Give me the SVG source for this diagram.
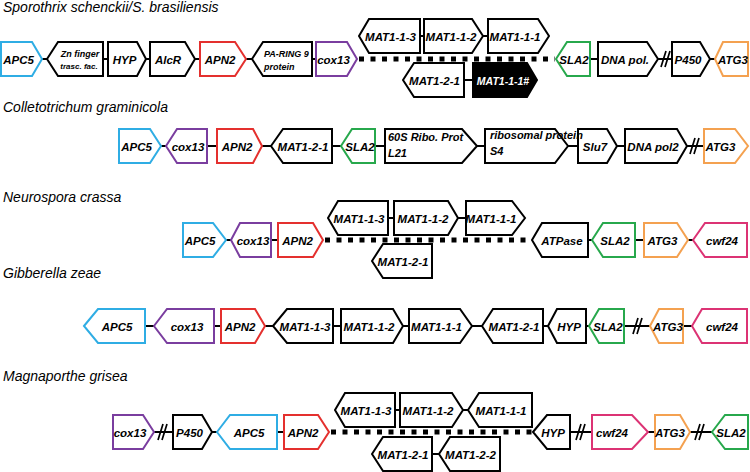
<svg xmlns="http://www.w3.org/2000/svg" width="750" height="472" viewBox="0 0 750 472">
<style>
.g{fill:#fff;stroke:#000;stroke-width:2;stroke-linejoin:miter}
.blue{stroke:#2fadE4}.purple{stroke:#7a3d9f}.red{stroke:#e4302e}.green{stroke:#27a84c}.orange{stroke:#f4a150}.pink{stroke:#dc3374}
.blk{fill:#000}
.t{font-family:"Liberation Sans",Arial,sans-serif;font-weight:bold;font-style:italic;font-size:11.5px;text-anchor:middle;fill:#000}
.tl{text-anchor:start}
.w{fill:#fff}
.title{font-family:"Liberation Sans",Arial,sans-serif;font-style:italic;font-size:14px;fill:#000}
.c{stroke:#000;stroke-width:2;fill:none}
.d{stroke:#000;stroke-width:5;stroke-dasharray:5 6.5;fill:none}
.brk{stroke:#000;stroke-width:1.7;fill:none}
</style>
<defs>
<path id="brk" d="M-5,8 L0,-8 M-1,8 L4,-8"/>
</defs>

<g id="titles">
<text class="title" x="3" y="12">Sporothrix schenckii/S. brasiliensis</text>
<text class="title" x="3" y="112">Colletotrichum graminicola</text>
<text class="title" x="3" y="202">Neurospora crassa</text>
<text class="title" x="3" y="278">Gibberella zeae</text>
<text class="title" x="3" y="381">Magnaporthe grisea</text>
</g>

<g id="connectors">
<path class="c" d="M42,59H47M103,59H108M146,59H150M195,59H200M246,59H252M312,59H316M590,59H598M658,59H672M710,59H715M420,36H424M483,36H488M464,80H473"/>
<path class="d" d="M359,59H555"/>
<use href="#brk" class="brk" x="666" y="59"/>
<path class="c" d="M161,146H166M207,146H217M262,146H271M332,146H341M375,146H385M477,146H485M568,146H578M617,146H625M687,146H704"/>
<use href="#brk" class="brk" x="695" y="146"/>
<path class="c" d="M226,240H231M271,240H278M588,240H592M635,240H644M688,240H693M388,218H394M458,218H466"/>
<path class="d" d="M325,240H532"/>
<path class="c" d="M145,326H154M214,326H221M265,326H273M333,326H341M403,326H409M472,326H482M543,326H548M586,326H589M624,326H650M683,326H692"/>
<use href="#brk" class="brk" x="638" y="326"/>
<path class="c" d="M154,432H173M212,432H217M277,432H284M570,432H592M648,432H655M690,432H712M395,410H400M463,410H468M432,454H439"/>
<path class="d" d="M331,432H532"/>
<use href="#brk" class="brk" x="163" y="432"/>
<use href="#brk" class="brk" x="581" y="432"/>
<use href="#brk" class="brk" x="700" y="432"/>
</g>

<!-- Row 1: Sporothrix -->
<g id="r1-APC5"><polygon class="g blue" points="1,42 32,42 42,59 32,76 1,76"/><text class="t" x="18.5" y="63.5">APC5</text></g>
<g id="r1-Zn"><polygon class="g" points="47,59 58,42 103,42 103,76 58,76"/><text class="t" x="80" y="57" style="font-size:9px">Zn finger</text><text class="t" x="79" y="69" style="font-size:8px">trasc. fac.</text></g>
<g id="r1-HYP"><polygon class="g" points="108,42 137,42 146,59 137,76 108,76"/><text class="t" x="124.5" y="63.5">HYP</text></g>
<g id="r1-AlcR"><polygon class="g" points="150,42 185,42 195,59 185,76 150,76"/><text class="t" x="168" y="63.5">AlcR</text></g>
<g id="r1-APN2"><polygon class="g red" points="200,42 235,42 246,59 235,76 200,76"/><text class="t" x="220" y="63.5">APN2</text></g>
<g id="r1-PARING"><polygon class="g" points="252,59 263,42 312,42 312,76 263,76"/><text class="t tl" x="264" y="57" style="font-size:9px">PA-RING 9</text><text class="t tl" x="264" y="70" style="font-size:9px">protein</text></g>
<g id="r1-cox13"><polygon class="g purple" points="316,42 347,42 357,59 347,76 316,76"/><text class="t" x="333.5" y="63.5">cox13</text></g>
<g id="r1-MAT1-1-3"><polygon class="g" points="359,36 369,19 420,19 420,53 369,53"/><text class="t" x="390.5" y="40.5">MAT1-1-3</text></g>
<g id="r1-MAT1-1-2"><polygon class="g" points="424,19 472,19 483,36 472,53 424,53"/><text class="t" x="451" y="40.5">MAT1-1-2</text></g>
<g id="r1-MAT1-1-1"><polygon class="g" points="488,19 538,19 549,36 538,53 488,53"/><text class="t" x="515" y="40.5">MAT1-1-1</text></g>
<g id="r1-MAT1-2-1"><polygon class="g" points="403,80 414,63 464,63 464,97 414,97"/><text class="t" x="434.5" y="84.5">MAT1-2-1</text></g>
<g id="r1-MAT1-1-1h"><polygon class="g blk" points="473,63 527,63 537,80 527,97 473,97"/><text class="t w" x="503" y="84.5" style="font-size:10.5px">MAT1-1-1#</text></g>
<g id="r1-SLA2"><polygon class="g green" points="556,59 567,42 590,42 590,76 567,76"/><text class="t" x="574" y="63.5">SLA2</text></g>
<g id="r1-DNApol"><polygon class="g" points="598,42 647,42 658,59 647,76 598,76"/><text class="t" x="625" y="63.5">DNA pol.</text></g>
<g id="r1-P450"><polygon class="g" points="672,42 700,42 710,59 700,76 672,76"/><text class="t" x="688" y="63.5">P450</text></g>
<g id="r1-ATG3"><polygon class="g orange" points="715,59 723,42 748,42 748,76 723,76"/><text class="t" x="733" y="63.5">ATG3</text></g>

<!-- Row 2: Colletotrichum -->
<g id="r2-APC5"><polygon class="g blue" points="119,129 150,129 161,146 150,163 119,163"/><text class="t" x="136.5" y="150.5">APC5</text></g>
<g id="r2-cox13"><polygon class="g purple" points="166,146 177,129 207,129 207,163 177,163"/><text class="t" x="188" y="150.5">cox13</text></g>
<g id="r2-APN2"><polygon class="g red" points="217,129 253,129 262,146 253,163 217,163"/><text class="t" x="237" y="150.5">APN2</text></g>
<g id="r2-MAT1-2-1"><polygon class="g" points="271,146 283,129 332,129 332,163 283,163"/><text class="t" x="303" y="150.5">MAT1-2-1</text></g>
<g id="r2-SLA2"><polygon class="g green" points="341,146 352,129 375,129 375,163 352,163"/><text class="t" x="360" y="150.5">SLA2</text></g>
<g id="r2-60S"><polygon class="g" points="385,129 462,129 477,146 462,163 385,163"/><text class="t tl" x="388" y="141" style="font-size:11px">60S Ribo. Prot</text><text class="t tl" x="388" y="157" style="font-size:11px">L21</text></g>
<g id="r2-Slu7"><polygon class="g" points="578,129 607,129 617,146 607,163 578,163"/><text class="t" x="595" y="150.5">Slu7</text></g>
<g id="r2-S4"><polygon class="g" points="485,129 555,129 568,146 555,163 485,163"/><text class="t tl" x="490" y="139" style="font-size:11px">ribosomal protein</text><text class="t tl" x="490" y="155" style="font-size:11px">S4</text></g>
<g id="r2-DNApol2"><polygon class="g" points="625,129 677,129 687,146 677,163 625,163"/><text class="t" x="653" y="150.5">DNA pol2</text></g>
<g id="r2-ATG3"><polygon class="g orange" points="704,129 735,129 748,146 735,163 704,163"/><text class="t" x="720.5" y="150.5">ATG3</text></g>

<!-- Row 3: Neurospora -->
<g id="r3-APC5"><polygon class="g blue" points="183,223 213,223 226,240 213,257 183,257"/><text class="t" x="200" y="244.5">APC5</text></g>
<g id="r3-cox13"><polygon class="g purple" points="231,240 240,223 271,223 271,257 240,257"/><text class="t" x="253" y="244.5">cox13</text></g>
<g id="r3-APN2"><polygon class="g red" points="278,223 313,223 323,240 313,257 278,257"/><text class="t" x="297.5" y="244.5">APN2</text></g>
<g id="r3-MAT1-1-3"><polygon class="g" points="328,218 338,201 388,201 388,235 338,235"/><text class="t" x="359" y="222.5">MAT1-1-3</text></g>
<g id="r3-MAT1-1-2"><polygon class="g" points="394,201 448,201 458,218 448,235 394,235"/><text class="t" x="423" y="222.5">MAT1-1-2</text></g>
<g id="r3-MAT1-1-1"><polygon class="g" points="466,201 512,201 525,218 512,235 466,235"/><text class="t" x="491" y="222.5">MAT1-1-1</text></g>
<g id="r3-MAT1-2-1"><polygon class="g" points="372,261 383,244 432,244 432,278 383,278"/><text class="t" x="403" y="265.5">MAT1-2-1</text></g>
<g id="r3-ATPase"><polygon class="g" points="532,240 542,223 588,223 588,257 542,257"/><text class="t" x="562" y="244.5">ATPase</text></g>
<g id="r3-SLA2"><polygon class="g green" points="592,240 603,223 635,223 635,257 603,257"/><text class="t" x="615" y="244.5">SLA2</text></g>
<g id="r3-ATG3"><polygon class="g orange" points="644,223 677,223 688,240 677,257 644,257"/><text class="t" x="662.5" y="244.5">ATG3</text></g>
<g id="r3-cwf24"><polygon class="g pink" points="693,240 705,223 747,223 747,257 705,257"/><text class="t" x="722" y="244.5">cwf24</text></g>

<!-- Row 4: Gibberella -->
<g id="r4-APC5"><polygon class="g blue" points="84,326 98,309 145,309 145,343 98,343"/><text class="t" x="117" y="330.5">APC5</text></g>
<g id="r4-cox13"><polygon class="g purple" points="154,326 167,309 214,309 214,343 167,343"/><text class="t" x="187" y="330.5">cox13</text></g>
<g id="r4-APN2"><polygon class="g red" points="221,309 255,309 265,326 255,343 221,343"/><text class="t" x="240" y="330.5">APN2</text></g>
<g id="r4-MAT1-1-3"><polygon class="g" points="273,326 287,309 333,309 333,343 287,343"/><text class="t" x="305" y="330.5">MAT1-1-3</text></g>
<g id="r4-MAT1-1-2"><polygon class="g" points="341,309 393,309 403,326 393,343 341,343"/><text class="t" x="369" y="330.5">MAT1-1-2</text></g>
<g id="r4-MAT1-1-1"><polygon class="g" points="409,309 460,309 472,326 460,343 409,343"/><text class="t" x="436.5" y="330.5">MAT1-1-1</text></g>
<g id="r4-MAT1-2-1"><polygon class="g" points="482,326 493,309 543,309 543,343 493,343"/><text class="t" x="514" y="330.5">MAT1-2-1</text></g>
<g id="r4-HYP"><polygon class="g" points="548,326 557,309 586,309 586,343 557,343"/><text class="t" x="569" y="330.5">HYP</text></g>
<g id="r4-SLA2"><polygon class="g green" points="589,326 599,309 624,309 624,343 599,343"/><text class="t" x="608" y="330.5">SLA2</text></g>
<g id="r4-ATG3"><polygon class="g orange" points="650,326 659,309 683,309 683,343 659,343"/><text class="t" x="668" y="330.5">ATG3</text></g>
<g id="r4-cwf24"><polygon class="g pink" points="692,326 702,309 747,309 747,343 702,343"/><text class="t" x="722" y="330.5">cwf24</text></g>

<!-- Row 5: Magnaporthe -->
<g id="r5-cox13"><polygon class="g purple" points="113,415 143,415 154,432 143,449 113,449"/><text class="t" x="130" y="436.5">cox13</text></g>
<g id="r5-P450"><polygon class="g" points="173,415 202,415 212,432 202,449 173,449"/><text class="t" x="189.5" y="436.5">P450</text></g>
<g id="r5-APC5"><polygon class="g blue" points="217,432 230,415 277,415 277,449 230,449"/><text class="t" x="249" y="436.5">APC5</text></g>
<g id="r5-APN2"><polygon class="g red" points="284,415 318,415 329,432 318,449 284,449"/><text class="t" x="303" y="436.5">APN2</text></g>
<g id="r5-MAT1-1-3"><polygon class="g" points="335,410 345,393 395,393 395,427 345,427"/><text class="t" x="366" y="414.5">MAT1-1-3</text></g>
<g id="r5-MAT1-1-2"><polygon class="g" points="400,393 452,393 463,410 452,427 400,427"/><text class="t" x="428" y="414.5">MAT1-1-2</text></g>
<g id="r5-MAT1-1-1"><polygon class="g" points="468,410 479,393 532,393 532,427 479,427"/><text class="t" x="501" y="414.5">MAT1-1-1</text></g>
<g id="r5-MAT1-2-1"><polygon class="g" points="372,454 383,437 432,437 432,471 383,471"/><text class="t" x="403" y="458.5">MAT1-2-1</text></g>
<g id="r5-MAT1-2-2"><polygon class="g" points="439,454 450,437 500,437 500,471 450,471"/><text class="t" x="470.5" y="458.5">MAT1-2-2</text></g>
<g id="r5-HYP"><polygon class="g" points="533,432 547,415 570,415 570,449 547,449"/><text class="t" x="553" y="436.5">HYP</text></g>
<g id="r5-cwf24"><polygon class="g pink" points="592,415 632,415 648,432 632,449 592,449"/><text class="t" x="612" y="436.5">cwf24</text></g>
<g id="r5-ATG3"><polygon class="g orange" points="655,415 680,415 690,432 680,449 655,449"/><text class="t" x="670" y="436.5">ATG3</text></g>
<g id="r5-SLA2"><polygon class="g green" points="712,432 725,415 748,415 748,449 725,449"/><text class="t" x="731" y="436.5">SLA2</text></g>
</svg>
